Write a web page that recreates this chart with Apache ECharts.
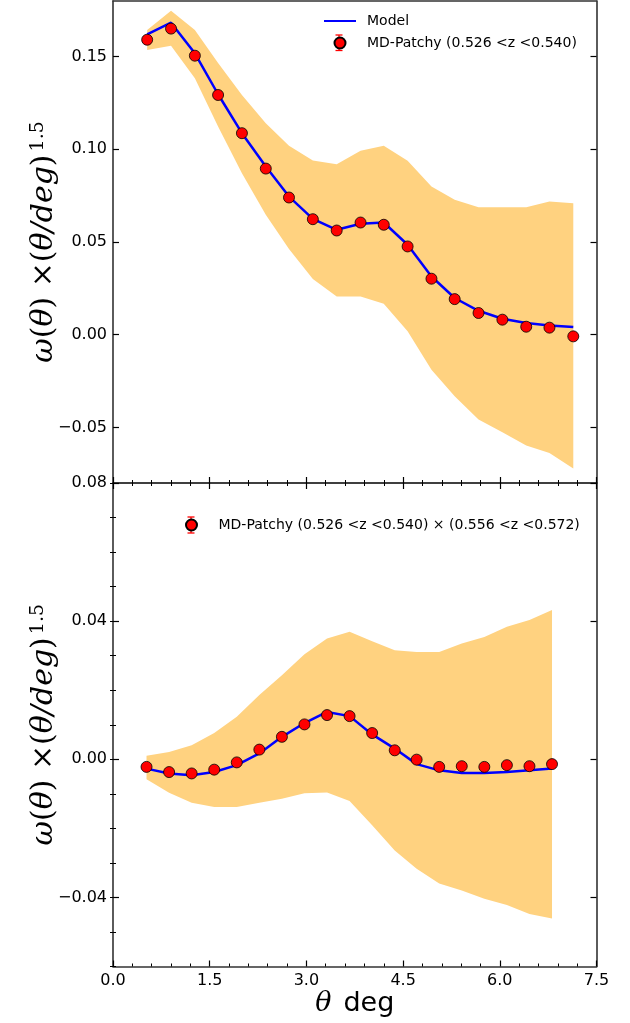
<!DOCTYPE html>
<html>
<head>
<meta charset="utf-8">
<script src="https://cdn.jsdelivr.net/npm/echarts@6/dist/echarts.min.js"></script>
<style>
  html, body { margin: 0; padding: 0; background: #ffffff; }
  #chart { width: 630px; height: 1023px; }
</style>
</head>
<body>
<div id="chart"></div>
<script>
// ---- auto-correlation, 0.526 < z < 0.540 ----
const thetaAuto = [0.53, 0.90, 1.27, 1.63, 2.00, 2.37, 2.73, 3.10, 3.47, 3.84, 4.20, 4.57, 4.94, 5.30, 5.67, 6.04, 6.41, 6.77, 7.14];
const patchyAuto = [0.1591, 0.1651, 0.1505, 0.1293, 0.1087, 0.0896, 0.0740, 0.0623, 0.0562, 0.0605, 0.0593, 0.0476, 0.0302, 0.0192, 0.0117, 0.0081, 0.0043, 0.0038, -0.0009];
const modelAuto = [0.1620, 0.1683, 0.1518, 0.1297, 0.1087, 0.0907, 0.0745, 0.0625, 0.0566, 0.0598, 0.0605, 0.0485, 0.0314, 0.0198, 0.0129, 0.0086, 0.0063, 0.0050, 0.0041];
const bandAutoHi = [0.1644, 0.1748, 0.1644, 0.1465, 0.1293, 0.1141, 0.1019, 0.0940, 0.0920, 0.0992, 0.1019, 0.0938, 0.0799, 0.0728, 0.0688, 0.0688, 0.0688, 0.0718, 0.0709];
const bandAutoLo = [0.1536, 0.1558, 0.1383, 0.1123, 0.0871, 0.0647, 0.0462, 0.0300, 0.0206, 0.0206, 0.0167, 0.0018, -0.0189, -0.0332, -0.0458, -0.0526, -0.0598, -0.0638, -0.0722];

// ---- cross-correlation, (0.526 < z < 0.540) x (0.556 < z < 0.572) ----
const thetaCross = [0.52, 0.87, 1.22, 1.57, 1.92, 2.27, 2.62, 2.97, 3.32, 3.67, 4.02, 4.37, 4.71, 5.06, 5.41, 5.76, 6.11, 6.46, 6.81];
const patchyCross = [-0.0022, -0.0037, -0.0041, -0.0030, -0.0009, 0.0028, 0.0065, 0.0101, 0.0128, 0.0125, 0.0076, 0.0026, -0.0001, -0.0022, -0.0020, -0.0022, -0.0017, -0.0020, -0.0014];
const modelCross = [-0.0027, -0.0041, -0.0046, -0.0037, -0.0017, 0.0017, 0.0065, 0.0105, 0.0137, 0.0125, 0.0072, 0.0031, -0.0014, -0.0032, -0.0040, -0.0040, -0.0037, -0.0032, -0.0027];
const bandCrossHi = [0.0010, 0.0021, 0.0041, 0.0076, 0.0123, 0.0186, 0.0243, 0.0304, 0.0350, 0.0369, 0.0342, 0.0316, 0.0311, 0.0311, 0.0335, 0.0354, 0.0384, 0.0403, 0.0432];
const bandCrossLo = [-0.0058, -0.0097, -0.0126, -0.0138, -0.0138, -0.0126, -0.0114, -0.0098, -0.0096, -0.0121, -0.0191, -0.0264, -0.0317, -0.0360, -0.0380, -0.0404, -0.0422, -0.0448, -0.0461];

// ---- axis ticks ----
const xTicks = { min: 0, max: 7.5, step: 1.5 };
const yAutoTicks = [-0.05, 0.00, 0.05, 0.10, 0.15];
const yAutoRange = [-0.08, 0.18];
const yCrossTicks = [-0.04, 0.00, 0.04, 0.08];
const yCrossRange = [-0.06, 0.08];

const nameAuto = 'MD-Patchy (0.526 <z <0.540)';
const nameCross = 'MD-Patchy (0.526 <z <0.540) \u00d7 (0.556 <z <0.572)';

const FRAME = '#333333';
const SANS = 'DejaVu Sans';
const SERIF = 'DejaVu Serif';

const fmt = v => (v < 0 ? '\u2212' : '') + Math.abs(v).toFixed(2);

function pairs(xs, ys) { return xs.map((x, i) => [x, ys[i]]); }

// shaded envelope drawn as one polygon through the axis scales
function band(xs, lo, hi, gi) {
  return {
    type: 'custom', xAxisIndex: gi === 0 ? 0 : 2, yAxisIndex: gi === 0 ? 0 : 2,
    silent: true, z: 1,
    data: xs.map((x, i) => [x, lo[i], hi[i]]),
    renderItem(params, api) {
      if (params.dataIndex !== 0) return null;
      const pts = [];
      for (let i = 0; i < xs.length; i++) pts.push(api.coord([xs[i], hi[i]]));
      for (let i = xs.length - 1; i >= 0; i--) pts.push(api.coord([xs[i], lo[i]]));
      return { type: 'polygon', shape: { points: pts }, style: { fill: '#ffd280' } };
    }
  };
}

function xAxisDef(gi, pos, opts) {
  return Object.assign({
    type: 'value', gridIndex: gi, position: pos,
    min: xTicks.min, max: xTicks.max, interval: xTicks.step,
    axisLine: { show: true, onZero: false, lineStyle: { color: FRAME, width: 1.6 } },
    axisTick: { show: true, inside: true, length: 6, lineStyle: { color: '#000', width: 1.2 } },
    minorTick: { show: true, splitNumber: 5, length: 3, lineStyle: { color: '#000', width: 1 } },
    axisLabel: { show: false },
    splitLine: { show: false }
  }, opts || {});
}

function yAxisDef(gi, pos, range, ticks, showLabel) {
  return {
    type: 'value', gridIndex: gi, position: pos,
    min: range[0], max: range[1],
    axisLine: { show: true, onZero: false, lineStyle: { color: FRAME, width: 1.6 } },
    axisTick: { show: true, inside: true, length: 6, customValues: ticks, lineStyle: { color: '#000', width: 1.2 } },
    axisLabel: { show: showLabel, customValues: ticks, formatter: fmt, margin: 6,
      fontFamily: SANS, fontSize: 16, color: '#000' },
    splitLine: { show: false }
  };
}

function yMinorDef(gi, pos, range) {
  return {
    type: 'value', gridIndex: gi, position: pos,
    min: range[0], max: range[1], interval: 0.01,
    axisLine: { show: false },
    axisTick: { show: true, inside: true, length: 3, lineStyle: { color: '#000', width: 1 } },
    axisLabel: { show: false },
    splitLine: { show: false }
  };
}

const yName = {
  name: '{i|\u03c9}{r|(}{i|\u03b8}{r|) \u00d7(}{i|\u03b8/deg}{r|)}{s|1.5}',
  nameLocation: 'middle', nameRotate: 90, nameGap: 54, nameMoveOverlap: false,
  nameTextStyle: {
    rich: {
      i: { fontFamily: SERIF, fontStyle: 'italic', fontSize: 30, color: '#000', lineHeight: 30, padding: [12, 0, 0, 0], verticalAlign: 'bottom' },
      r: { fontFamily: SERIF, fontSize: 30, color: '#000', lineHeight: 30, padding: [12, 0, 0, 0], verticalAlign: 'bottom' },
      s: { fontFamily: SERIF, fontSize: 19, color: '#000', lineHeight: 20, padding: [0, 0, 0, 3], verticalAlign: 'top' }
    }
  }
};

const yAxes = [
  Object.assign(yAxisDef(0, 'left', yAutoRange, yAutoTicks, true), yName),
  yAxisDef(0, 'right', yAutoRange, yAutoTicks, false),
  Object.assign(yAxisDef(1, 'left', yCrossRange, yCrossTicks, true), yName),
  yAxisDef(1, 'right', yCrossRange, yCrossTicks, false),
  yMinorDef(1, 'left', yCrossRange),
  yMinorDef(1, 'right', yCrossRange)
];

const xAxes = [
  xAxisDef(0, 'bottom'),
  xAxisDef(0, 'top', { axisTick: { show: false }, minorTick: { show: false } }),
  xAxisDef(1, 'bottom', {
    axisLabel: { show: true, margin: 6, fontFamily: SANS, fontSize: 16, color: '#000', formatter: v => v.toFixed(1) },
    name: '{i|\u03b8}{r|deg}', nameLocation: 'middle', nameGap: 24,
    nameTextStyle: {
      rich: {
        i: { fontFamily: SERIF, fontStyle: 'italic', fontSize: 27, color: '#000', padding: [0, 12, 0, 0] },
        r: { fontFamily: SANS, fontSize: 27, color: '#000' }
      }
    }
  }),
  xAxisDef(1, 'top')
];

const legendText = { fontFamily: SANS, fontSize: 14, color: '#000', lineHeight: 16, padding: [0, 0, 0, 6] };

const option = {
  animation: false,
  backgroundColor: '#ffffff',
  grid: [
    { left: 113, right: 33.5, top: 1, height: 482, outerBoundsMode: 'none' },
    { left: 113, right: 33.5, top: 483, height: 483.5, outerBoundsMode: 'none' }
  ],
  xAxis: xAxes,
  yAxis: yAxes,
  legend: [
    { data: [{ name: 'Model', itemStyle: { opacity: 0 } }, nameAuto], orient: 'vertical', left: 323, top: 13, padding: 0,
      itemWidth: 32, itemHeight: 11, itemGap: 6, selectedMode: false, textStyle: legendText, z: 5 },
    { data: [nameCross], orient: 'vertical', left: 185, top: 517, padding: 0,
      itemWidth: 32, itemHeight: 11, itemGap: 6, selectedMode: false, textStyle: legendText, z: 5 }
  ],
  graphic: [
    // error-bar glyphs behind the legend markers
    { type: 'group', z: 1, children: [
      { type: 'line', shape: { x1: 339, y1: 35, x2: 339, y2: 50.5 }, style: { stroke: '#ff0000', lineWidth: 1.3 } },
      { type: 'line', shape: { x1: 335.5, y1: 35, x2: 342.5, y2: 35 }, style: { stroke: '#ff0000', lineWidth: 1.3 } },
      { type: 'line', shape: { x1: 335.5, y1: 50.5, x2: 342.5, y2: 50.5 }, style: { stroke: '#ff0000', lineWidth: 1.3 } },
      { type: 'line', shape: { x1: 191, y1: 517, x2: 191, y2: 533 }, style: { stroke: '#ff0000', lineWidth: 1.3 } },
      { type: 'line', shape: { x1: 187.5, y1: 517, x2: 194.5, y2: 517 }, style: { stroke: '#ff0000', lineWidth: 1.3 } },
      { type: 'line', shape: { x1: 187.5, y1: 533, x2: 194.5, y2: 533 }, style: { stroke: '#ff0000', lineWidth: 1.3 } }
    ] }
  ],
  series: [
    band(thetaAuto, bandAutoLo, bandAutoHi, 0),
    { name: 'Model', type: 'line', xAxisIndex: 0, yAxisIndex: 0, data: pairs(thetaAuto, modelAuto),
      symbol: 'none', z: 3, lineStyle: { color: '#0000ff', width: 2.5 }, itemStyle: { color: '#0000ff' } },
    { name: nameAuto, type: 'scatter', xAxisIndex: 0, yAxisIndex: 0, data: pairs(thetaAuto, patchyAuto),
      symbol: 'circle', symbolSize: 11, z: 4,
      itemStyle: { color: '#ff0000', borderColor: '#000000', borderWidth: 0.8, opacity: 1 } },

    band(thetaCross, bandCrossLo, bandCrossHi, 1),
    { name: 'Model cross', type: 'line', xAxisIndex: 2, yAxisIndex: 2, data: pairs(thetaCross, modelCross),
      symbol: 'none', z: 3, lineStyle: { color: '#0000ff', width: 2.5 }, itemStyle: { color: '#0000ff' } },
    { name: nameCross, type: 'scatter', xAxisIndex: 2, yAxisIndex: 2, data: pairs(thetaCross, patchyCross),
      symbol: 'circle', symbolSize: 11, z: 4,
      itemStyle: { color: '#ff0000', borderColor: '#000000', borderWidth: 0.8, opacity: 1 } }
  ]
};

const chart = echarts.init(document.getElementById('chart'), null, { renderer: 'canvas' });
chart.setOption(option);
</script>
</body>
</html>
